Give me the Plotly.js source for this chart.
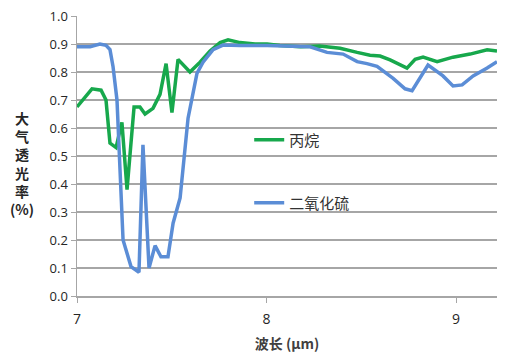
<!DOCTYPE html>
<html><head><meta charset="utf-8">
<script src="https://cdn.plot.ly/plotly-3.0.1.min.js"></script>
<style>html,body{margin:0;padding:0;background:#fff}#chart{width:512px;height:364px}</style>
</head><body><div id="chart"></div>
<script>
const propaneX = [7.000,7.079,7.127,7.153,7.174,7.206,7.237,7.264,7.301,7.332,7.359,7.401,7.438,7.470,7.501,7.533,7.596,7.649,7.702,7.755,7.797,7.860,7.939,8.003,8.070,8.180,8.280,8.388,8.478,8.546,8.599,8.652,8.741,8.784,8.826,8.900,8.984,9.074,9.164,9.216];
const propaneY = [0.675,0.740,0.735,0.700,0.546,0.530,0.620,0.380,0.675,0.675,0.650,0.670,0.720,0.830,0.655,0.845,0.800,0.835,0.875,0.905,0.915,0.905,0.900,0.900,0.895,0.890,0.893,0.885,0.870,0.860,0.857,0.843,0.814,0.845,0.853,0.837,0.853,0.864,0.879,0.875];
const so2X = [7.000,7.069,7.121,7.153,7.174,7.190,7.211,7.243,7.285,7.327,7.348,7.380,7.412,7.443,7.480,7.507,7.544,7.575,7.586,7.633,7.665,7.718,7.770,7.860,8.003,8.230,8.319,8.404,8.478,8.530,8.583,8.668,8.731,8.768,8.852,8.931,8.984,9.032,9.090,9.164,9.216];
const so2Y = [0.890,0.890,0.900,0.895,0.880,0.820,0.700,0.200,0.105,0.085,0.540,0.100,0.180,0.140,0.140,0.260,0.350,0.560,0.635,0.795,0.835,0.880,0.896,0.895,0.895,0.890,0.870,0.864,0.837,0.830,0.820,0.777,0.740,0.733,0.825,0.786,0.750,0.754,0.786,0.814,0.837];
const seriesNames = ['丙烷','二氧化硫'];
const xTicks = [7,8,9];
const yTicks = [0,0.1,0.2,0.3,0.4,0.5,0.6,0.7,0.8,0.9,1.0];

const font = "'Open Sans','Noto Sans CJK SC',sans-serif";
const cjk = "'Noto Sans CJK SC',sans-serif";
const traces = [
  {x: propaneX, y: propaneY, name: seriesNames[0], mode: 'lines', line: {color: '#17a84c', width: 3.5}, legend: 'legend'},
  {x: so2X, y: so2Y, name: seriesNames[1], mode: 'lines', line: {color: '#5b8dd6', width: 3.5}, legend: 'legend2'}
];
const legendCommon = {xanchor: 'left', yanchor: 'middle', bgcolor: 'rgba(0,0,0,0)', font: {family: cjk, size: 15, color: '#333'}};
const layout = {
  width: 512, height: 364,
  margin: {l: 77, r: 15, t: 16, b: 68},
  paper_bgcolor: '#fff', plot_bgcolor: '#fff',
  font: {family: font, size: 13, color: '#404040'},
  xaxis: {range: [7, 9.216], tickvals: xTicks, ticktext: xTicks.map(String), showgrid: false, zeroline: false,
    showline: true, linecolor: '#a6a6a6', linewidth: 1.5, ticks: 'outside', ticklen: 5, tickcolor: '#a6a6a6',
    ticklabelstandoff: 5,
    tickfont: {family: font, size: 14, color: '#262626'},
    title: {text: '<b>波长 (µm)</b>', font: {family: cjk, size: 14, color: '#404040'}, standoff: 12}},
  yaxis: {range: [0, 1.0], tickvals: yTicks, ticktext: yTicks.map(v => v.toFixed(1)), showgrid: true, gridcolor: '#a6a6a6', gridwidth: 1.5,
    zeroline: false, showline: true, linecolor: '#a6a6a6', linewidth: 1.5, ticks: 'outside', ticklen: 5, tickcolor: '#a6a6a6',
    tickfont: {family: font, size: 13, color: '#262626'}},
  showlegend: true,
  legend: Object.assign({x: 0.41, y: 0.557}, legendCommon),
  legend2: Object.assign({x: 0.41, y: 0.332}, legendCommon),
  annotations: [{xref: 'paper', yref: 'paper', x: -0.131, y: 0.475, xanchor: 'center', yanchor: 'middle', showarrow: false,
    text: '<b>大<br>气<br>透<br>光<br>率<br>(%)</b>', font: {family: cjk, size: 14, color: '#262626'}}]
};
Plotly.newPlot('chart', traces, layout, {staticPlot: true});
</script></body></html>
